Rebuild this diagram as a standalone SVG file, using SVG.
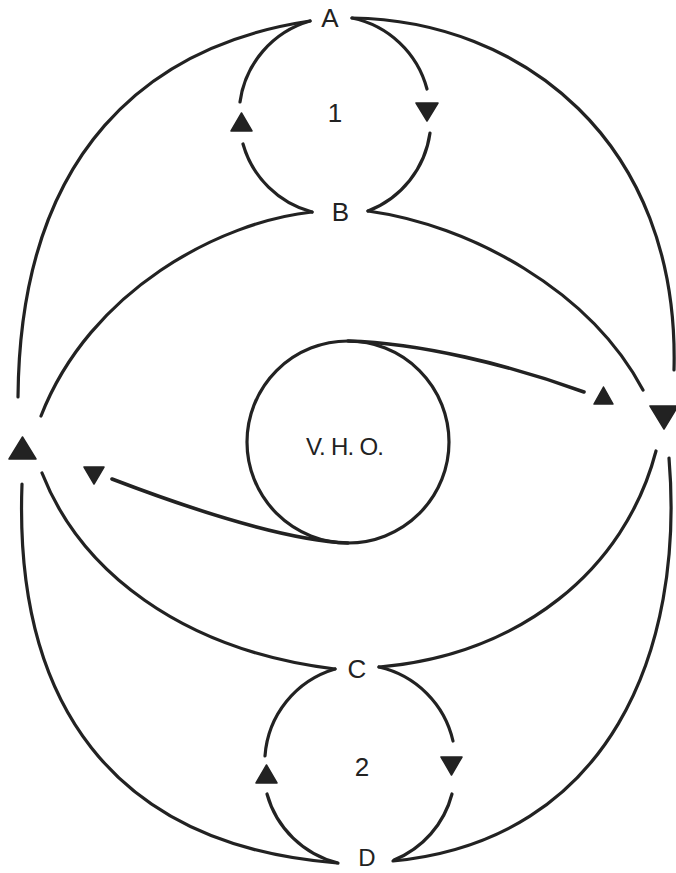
<svg xmlns="http://www.w3.org/2000/svg" width="676" height="873" viewBox="0 0 676 873">
<style>
.ln{fill:none;stroke:#222;stroke-width:3.2;stroke-linecap:round}
.ar{fill:#222;stroke:#222;stroke-width:1.5;stroke-linejoin:round}
.lb{font-family:"Liberation Sans","DejaVu Sans",sans-serif;font-size:26px;fill:#222;text-anchor:middle}
</style>
<rect width="676" height="873" fill="#fff"/>
<g id="connectors">
<path class="ln" d="M 310 21 C 150 45, 20 150, 18 397"/>
<path class="ln" d="M 22 484 C 14 700, 110 845, 337 863"/>
<path class="ln" d="M 312 212 C 220 222, 90 290, 41 416"/>
<path class="ln" d="M 42 473 C 80 570, 180 650, 335 669"/>
<path class="ln" d="M 352 18 C 520 20, 680 140, 674 370"/>
<path class="ln" d="M 669 458 C 685 650, 610 840, 393 861"/>
<path class="ln" d="M 368 211 C 470 225, 590 290, 643 390"/>
<path class="ln" d="M 656 451 C 625 570, 520 655, 379 667"/>
<path class="ln" d="M 310 21 A 98 98 0 0 0 240 102"/>
<path class="ln" d="M 243 144 A 98 98 0 0 0 312 212"/>
<path class="ln" d="M 352 18 A 98 98 0 0 1 427 89"/>
<path class="ln" d="M 430 133 A 98 98 0 0 1 368 211"/>
<path class="ln" d="M 335 669 A 98 98 0 0 0 265 756"/>
<path class="ln" d="M 267 794 A 98 98 0 0 0 338 863"/>
<path class="ln" d="M 379 667 A 98 98 0 0 1 453 741"/>
<path class="ln" d="M 452 794 A 98 98 0 0 1 394 860"/>
<path class="ln" style="stroke-width:3.6" d="M 348 341 C 420 343, 510 365, 584 392"/>
<path class="ln" style="stroke-width:3.6" d="M 348 543 C 280 540, 180 505, 112 479"/>
<polygon class="ar" points="231,131 252,131 241.5,113"/>
<polygon class="ar" points="416,103 438,103 427,121"/>
<polygon class="ar" points="256,783 277,783 266.5,765"/>
<polygon class="ar" points="441,757 462,757 451.5,775"/>
<polygon class="ar" points="9,459 36,459 22.5,437"/>
<polygon class="ar" points="84,467 104,467 94,484"/>
<polygon class="ar" points="594,404 613,404 603.5,387"/>
<polygon class="ar" points="650,406 678,406 664,429"/>
</g>
<g id="vho">
<circle cx="348" cy="442" r="101" fill="none" stroke="#222" stroke-width="3.2"/>
<text class="lb" x="345" y="455" style="font-size:24px" textLength="78" lengthAdjust="spacing">V. H. O.</text>
</g>
<g id="A"><text class="lb" x="330" y="27">A</text></g>
<g id="B"><text class="lb" x="340.5" y="221">B</text></g>
<g id="C"><text class="lb" x="357" y="678">C</text></g>
<g id="D"><text class="lb" x="367" y="866" style="font-size:24px">D</text></g>
<g id="loop1"><text class="lb" x="335" y="122">1</text></g>
<g id="loop2"><text class="lb" x="362" y="776">2</text></g>
</svg>
